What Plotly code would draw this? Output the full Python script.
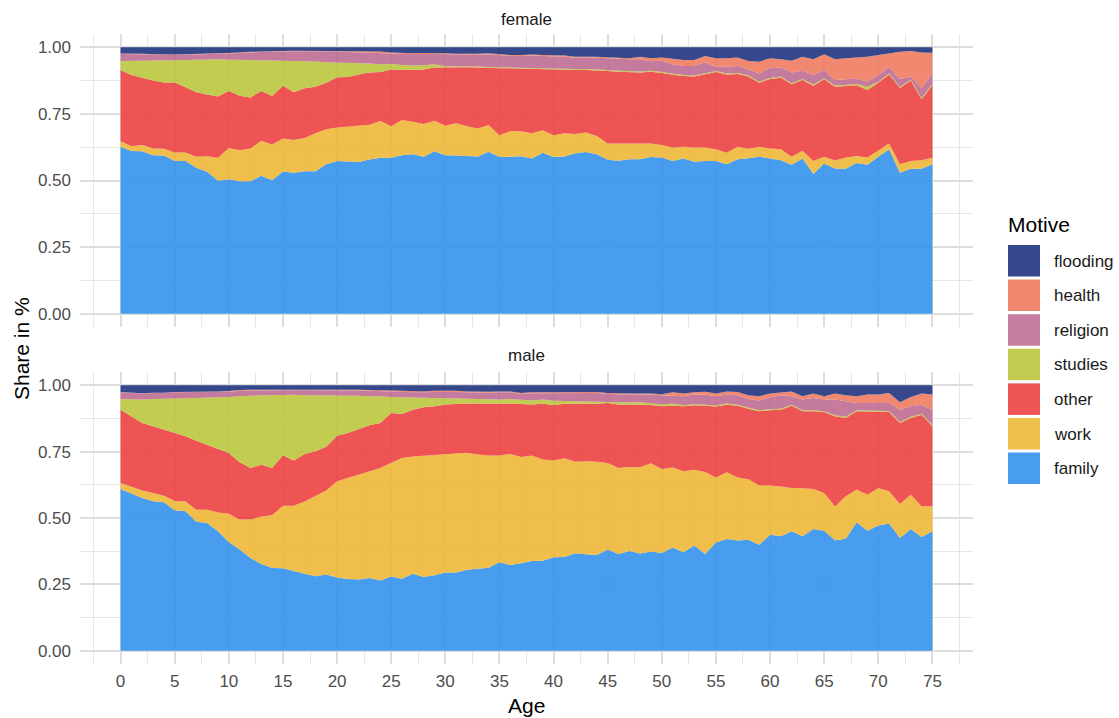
import plotly.graph_objects as go

# ---------------- data (upper edge of each stacked band, share 0..1) ----------------
ages = list(range(0, 76))
motives = ["family", "work", "other", "studies", "religion", "health", "flooding"]

female_family = [0.627,0.611,0.610,0.595,0.594,0.573,0.573,0.548,0.533,0.499,0.505,0.497,0.497,0.518,0.501,0.534,0.529,0.535,0.535,0.561,0.573,0.571,0.569,0.579,0.585,
                 0.585,0.595,0.599,0.589,0.610,0.595,0.594,0.593,0.590,0.608,0.588,0.589,0.591,0.583,0.604,0.588,0.590,0.602,0.607,0.599,0.578,0.574,0.580,0.580,0.588,0.586,0.573,
                 0.583,0.570,0.573,0.573,0.561,0.580,0.584,0.589,0.583,0.576,0.559,0.583,0.524,0.564,0.545,0.544,0.566,0.559,0.589,0.617,0.529,0.544,0.544,0.561]
female_work = [0.647,0.629,0.633,0.620,0.619,0.605,0.605,0.589,0.591,0.585,0.622,0.614,0.620,0.649,0.635,0.658,0.652,0.660,0.677,0.692,0.699,0.702,0.706,0.709,0.723,
               0.704,0.727,0.721,0.712,0.724,0.706,0.715,0.704,0.695,0.708,0.670,0.685,0.685,0.677,0.689,0.670,0.677,0.675,0.680,0.667,0.639,0.639,0.640,0.639,0.639,0.633,0.624,
               0.627,0.624,0.624,0.617,0.604,0.627,0.619,0.627,0.620,0.617,0.589,0.612,0.573,0.589,0.575,0.586,0.592,0.586,0.612,0.639,0.561,0.573,0.576,0.585]
female_other = [0.915,0.896,0.886,0.875,0.868,0.868,0.850,0.831,0.823,0.815,0.836,0.818,0.812,0.836,0.817,0.856,0.831,0.846,0.852,0.867,0.888,0.889,0.898,0.905,0.907,
                0.917,0.915,0.917,0.917,0.924,0.925,0.925,0.925,0.924,0.922,0.921,0.921,0.920,0.917,0.918,0.917,0.916,0.915,0.915,0.914,0.911,0.908,0.906,0.905,0.908,0.904,0.897,
                0.892,0.890,0.898,0.907,0.898,0.900,0.890,0.867,0.881,0.886,0.861,0.877,0.856,0.880,0.852,0.856,0.858,0.840,0.867,0.898,0.847,0.875,0.805,0.858]
female_studies = [0.949,0.949,0.949,0.950,0.950,0.951,0.952,0.954,0.954,0.954,0.954,0.954,0.952,0.951,0.950,0.950,0.949,0.949,0.947,0.944,0.943,0.943,0.941,0.939,0.936,
                  0.937,0.934,0.932,0.933,0.936,0.929,0.929,0.929,0.928,0.926,0.925,0.925,0.924,0.921,0.922,0.921,0.920,0.919,0.919,0.918,0.915,0.912,0.910,0.909,0.912,0.908,0.901,
                  0.896,0.894,0.902,0.911,0.902,0.904,0.894,0.871,0.885,0.890,0.865,0.881,0.860,0.884,0.856,0.860,0.862,0.852,0.871,0.902,0.851,0.879,0.809,0.862]
female_religion = [0.975,0.975,0.974,0.972,0.971,0.971,0.972,0.974,0.975,0.976,0.977,0.980,0.981,0.982,0.982,0.984,0.985,0.985,0.985,0.985,0.985,0.982,0.981,0.980,0.980,
                   0.977,0.975,0.974,0.975,0.975,0.974,0.972,0.971,0.972,0.974,0.970,0.967,0.967,0.969,0.967,0.967,0.965,0.961,0.962,0.961,0.959,0.956,0.955,0.955,0.948,0.950,0.936,
                   0.930,0.930,0.944,0.927,0.927,0.930,0.917,0.902,0.921,0.924,0.905,0.912,0.896,0.915,0.877,0.880,0.883,0.871,0.896,0.927,0.880,0.890,0.846,0.902]
female_health = [0.977,0.977,0.976,0.974,0.973,0.973,0.974,0.976,0.977,0.978,0.979,0.982,0.983,0.984,0.984,0.986,0.987,0.987,0.987,0.987,0.987,0.986,0.985,0.984,0.984,
                 0.981,0.979,0.978,0.979,0.979,0.978,0.976,0.975,0.976,0.978,0.974,0.971,0.971,0.973,0.971,0.971,0.969,0.965,0.966,0.965,0.963,0.960,0.959,0.965,0.959,0.962,0.957,
                 0.952,0.952,0.967,0.959,0.959,0.962,0.949,0.946,0.959,0.955,0.950,0.965,0.955,0.974,0.955,0.959,0.962,0.965,0.971,0.977,0.983,0.986,0.981,0.980]
female_flooding = [1.0] * len(ages)

male_family = [0.609,0.592,0.575,0.563,0.559,0.529,0.525,0.486,0.481,0.450,0.410,0.381,0.349,0.327,0.312,0.311,0.300,0.290,0.281,0.287,0.276,0.270,0.268,0.274,0.265,0.280,
               0.271,0.290,0.278,0.284,0.295,0.295,0.305,0.310,0.313,0.333,0.323,0.330,0.338,0.339,0.352,0.353,0.367,0.363,0.361,0.381,0.364,0.376,0.366,0.374,0.368,0.389,
               0.371,0.396,0.364,0.408,0.421,0.415,0.418,0.399,0.437,0.431,0.450,0.431,0.459,0.452,0.416,0.422,0.484,0.452,0.472,0.479,0.425,0.459,0.428,0.450]
male_work = [0.632,0.617,0.604,0.594,0.584,0.564,0.562,0.531,0.531,0.521,0.516,0.494,0.494,0.506,0.510,0.546,0.546,0.562,0.582,0.604,0.638,0.651,0.663,0.676,0.688,0.708,
             0.726,0.732,0.735,0.737,0.742,0.745,0.746,0.739,0.735,0.735,0.741,0.730,0.735,0.720,0.717,0.725,0.712,0.714,0.712,0.707,0.688,0.692,0.691,0.706,0.685,0.690,
             0.676,0.682,0.673,0.653,0.672,0.653,0.646,0.622,0.622,0.619,0.613,0.612,0.609,0.594,0.543,0.582,0.607,0.588,0.613,0.601,0.553,0.588,0.544,0.544]
male_other = [0.908,0.883,0.858,0.846,0.833,0.823,0.808,0.791,0.776,0.758,0.745,0.710,0.688,0.701,0.688,0.736,0.717,0.741,0.751,0.768,0.810,0.820,0.835,0.849,0.858,0.896,
              0.892,0.908,0.917,0.921,0.928,0.930,0.931,0.931,0.930,0.930,0.931,0.930,0.928,0.930,0.926,0.930,0.930,0.928,0.930,0.933,0.928,0.928,0.928,0.926,0.921,0.923,
              0.921,0.925,0.923,0.920,0.927,0.923,0.912,0.902,0.906,0.908,0.923,0.902,0.902,0.898,0.883,0.877,0.902,0.901,0.899,0.899,0.858,0.877,0.889,0.846]
male_studies = [0.948,0.946,0.946,0.948,0.950,0.950,0.951,0.952,0.954,0.955,0.956,0.959,0.961,0.962,0.962,0.964,0.964,0.962,0.962,0.962,0.962,0.961,0.961,0.959,0.959,0.956,
                0.955,0.954,0.954,0.952,0.952,0.951,0.950,0.950,0.948,0.946,0.948,0.946,0.943,0.946,0.942,0.941,0.940,0.938,0.937,0.938,0.936,0.935,0.936,0.933,0.928,0.931,
                0.925,0.929,0.927,0.924,0.931,0.927,0.916,0.906,0.910,0.912,0.927,0.906,0.906,0.902,0.887,0.881,0.906,0.905,0.903,0.903,0.862,0.881,0.893,0.850]
male_religion = [0.974,0.971,0.969,0.971,0.971,0.974,0.974,0.974,0.975,0.976,0.977,0.979,0.980,0.980,0.981,0.981,0.981,0.981,0.981,0.981,0.982,0.981,0.980,0.979,0.979,0.977,
                 0.975,0.974,0.974,0.975,0.976,0.975,0.974,0.972,0.972,0.974,0.974,0.967,0.970,0.970,0.970,0.970,0.970,0.970,0.971,0.967,0.965,0.965,0.965,0.965,0.962,0.961,
                 0.959,0.965,0.964,0.959,0.965,0.962,0.948,0.943,0.955,0.962,0.959,0.946,0.952,0.946,0.946,0.940,0.933,0.933,0.933,0.933,0.908,0.921,0.927,0.908]
male_health = [0.975,0.972,0.970,0.972,0.972,0.975,0.975,0.975,0.976,0.977,0.978,0.982,0.983,0.983,0.984,0.984,0.984,0.984,0.984,0.984,0.985,0.984,0.983,0.982,0.982,0.980,
               0.979,0.977,0.977,0.979,0.980,0.979,0.977,0.976,0.976,0.977,0.977,0.971,0.974,0.974,0.974,0.974,0.974,0.974,0.975,0.971,0.969,0.969,0.969,0.969,0.966,0.974,
               0.969,0.974,0.976,0.969,0.977,0.975,0.962,0.959,0.969,0.974,0.977,0.959,0.969,0.959,0.969,0.962,0.959,0.965,0.965,0.971,0.936,0.956,0.969,0.965]
male_flooding = [1.0] * len(ages)

x_tick_vals = list(range(0, 80, 5))
y_tick_vals = [0, 0.25, 0.5, 0.75, 1.0]
y_tick_text = ["0.00", "0.25", "0.50", "0.75", "1.00"]

# ---------------- styling ----------------
fill_rgba = {
    "family": "rgba(52,146,237,0.9)",
    "work": "rgba(238,184,55,0.9)",
    "other": "rgba(237,65,66,0.9)",
    "studies": "rgba(187,198,61,0.9)",
    "religion": "rgba(190,109,147,0.9)",
    "health": "rgba(238,124,96,0.9)",
    "flooding": "rgba(30,52,126,0.9)",
}
key_color = {
    "family": "#489DEF", "work": "#EFBF4B", "other": "#EF5455", "studies": "#C2CC50",
    "religion": "#C57C9E", "health": "#F08970", "flooding": "#35488B",
}
FONT = "Liberation Sans, Arial, sans-serif"

W, H = 1119, 718
ML, MR, MT, MB = 80, 146, 34, 54
PW, PH = W - ML - MR, H - MT - MB


def px(x):
    return (x - ML) / PW


def py(y):
    return (H - MB - y) / PH


female = dict(family=female_family, work=female_work, other=female_other, studies=female_studies,
              religion=female_religion, health=female_health, flooding=female_flooding)
male = dict(family=male_family, work=male_work, other=male_other, studies=male_studies,
            religion=male_religion, health=male_health, flooding=male_flooding)

fig = go.Figure()
for tops, xa, ya in [(female, "x", "y"), (male, "x2", "y2")]:
    for i, m in enumerate(motives):
        fig.add_trace(go.Scatter(
            x=ages, y=tops[m], xaxis=xa, yaxis=ya, mode="lines", name=m,
            line=dict(width=0), fill="tozeroy" if i == 0 else "tonexty",
            fillcolor=fill_rgba[m], showlegend=False, hoverinfo="skip"))

grid_major = "#dddddd"
grid_minor = "#e6e6e6"
xcommon = dict(range=[-3.75, 78.75], tickmode="array", tickvals=x_tick_vals, showgrid=True,
               gridcolor=grid_major, gridwidth=1.6, zeroline=False, showline=False, ticks="",
               minor=dict(tickmode="array", tickvals=[v + 2.5 for v in [-5] + x_tick_vals],
                          showgrid=True, gridcolor=grid_minor, gridwidth=1.2),
               tickfont=dict(family=FONT, size=17, color="#4d4d4d"), ticklabelstandoff=5)
ycommon = dict(range=[-0.05, 1.05], tickmode="array", tickvals=y_tick_vals, ticktext=y_tick_text,
               showgrid=True, gridcolor=grid_major, gridwidth=1.6, zeroline=False, showline=False,
               ticks="", minor=dict(tickmode="array", tickvals=[0.125, 0.375, 0.625, 0.875],
                                    showgrid=True, gridcolor=grid_minor, gridwidth=1.2),
               tickfont=dict(family=FONT, size=17, color="#4d4d4d"), ticklabelstandoff=8)

fig.update_layout(
    width=W, height=H, margin=dict(l=ML, r=MR, t=MT, b=MB),
    paper_bgcolor="white", plot_bgcolor="white", showlegend=False,
    xaxis=dict(domain=[0, 1], anchor="y", showticklabels=False, **xcommon),
    xaxis2=dict(domain=[0, 1], anchor="y2", showticklabels=True, **xcommon),
    yaxis=dict(domain=[py(327), 1], anchor="x", **ycommon),
    yaxis2=dict(domain=[0, py(372)], anchor="x2", **ycommon),
)

ann = []
ann.append(dict(text="female", x=0.5, y=py(19), xref="paper", yref="paper", showarrow=False,
                font=dict(family=FONT, size=17, color="#1a1a1a"), xanchor="center", yanchor="middle"))
ann.append(dict(text="male", x=0.5, y=py(355), xref="paper", yref="paper", showarrow=False,
                font=dict(family=FONT, size=17, color="#1a1a1a"), xanchor="center", yanchor="middle"))
ann.append(dict(text="Age", x=0.5, y=py(705), xref="paper", yref="paper", showarrow=False,
                font=dict(family=FONT, size=21, color="#000000"), xanchor="center", yanchor="middle"))
ann.append(dict(text="Share in %", x=px(21), y=py(349), xref="paper", yref="paper", showarrow=False,
                textangle=-90, font=dict(family=FONT, size=21, color="#000000"),
                xanchor="center", yanchor="middle"))
ann.append(dict(text="Motive", x=px(1006), y=py(224), xref="paper", yref="paper", showarrow=False,
                font=dict(family=FONT, size=21, color="#000000"), xanchor="left", yanchor="middle"))

shapes = []
legend_order = ["flooding", "health", "religion", "studies", "other", "work", "family"]
for k, m in enumerate(legend_order):
    top = 245 + k * 34.6
    shapes.append(dict(type="rect", xref="paper", yref="paper", x0=px(1008), x1=px(1040),
                       y0=py(top + 31.5), y1=py(top), fillcolor=key_color[m], line=dict(width=0)))
    ann.append(dict(text=m, x=px(1052), y=py(top + 16), xref="paper", yref="paper", showarrow=False,
                    font=dict(family=FONT, size=17, color="#1a1a1a"), xanchor="left", yanchor="middle"))

fig.update_layout(annotations=ann, shapes=shapes)
fig.write_html("out.html", config={"displayModeBar": False},
               post_script="document.body.style.margin='0px';document.body.style.overflow='hidden';")
